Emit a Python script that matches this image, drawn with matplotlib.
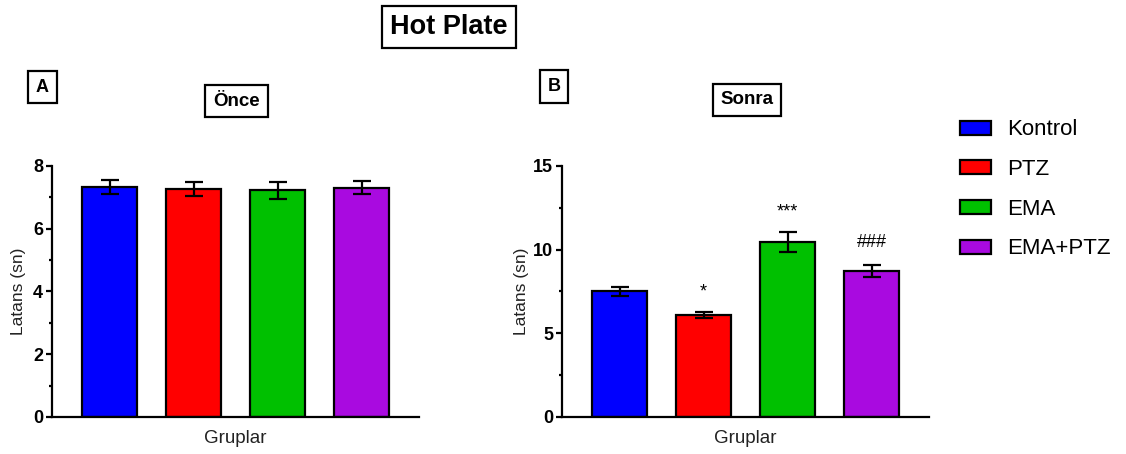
import numpy as np
import matplotlib
matplotlib.use("Agg")
import matplotlib.pyplot as plt
from matplotlib.ticker import MultipleLocator

plt.rcParams['font.family'] = ['Liberation Sans', 'DejaVu Sans']

# Groups and colours
groups = ["Kontrol", "PTZ", "EMA", "EMA+PTZ"]
colors = ["#0000FF", "#FF0000", "#00C000", "#A90AE0"]

# Hot plate latency (s), mean and SEM
before_mean = [7.33, 7.27, 7.22, 7.31]
before_sem = [0.23, 0.23, 0.27, 0.22]
after_mean = [7.50, 6.07, 10.45, 8.70]
after_sem = [0.27, 0.18, 0.60, 0.36]

# Significance marks for the "Sonra" panel
marks = ["", "*", "***", "###"]
mark_y = [0, 6.95, 11.75, 9.9]

fig = plt.figure(figsize=(11.26, 4.54), dpi=100)
ax_a = fig.add_axes([0.0462, 0.0815, 0.326, 0.553])
ax_b = fig.add_axes([0.4991, 0.0815, 0.326, 0.553])

x = np.arange(len(groups))
box = dict(boxstyle="square,pad=0.3", fc="white", ec="black", lw=1.6)
small_box = dict(boxstyle="square,pad=0.42", fc="white", ec="black", lw=1.6)


def draw_panel(ax, means, sems, ymax, major, minor, label_x):
    bars = ax.bar(x, means, width=0.655, color=colors, edgecolor="black",
                  linewidth=1.6, zorder=2)
    ax.errorbar(x, means, yerr=sems, fmt="none", ecolor="black",
                elinewidth=1.6, capsize=6.5, capthick=1.6, zorder=3)
    ax.set_xlim(-0.685, 3.685)
    ax.set_ylim(0, ymax)
    ax.yaxis.set_major_locator(MultipleLocator(major))
    ax.yaxis.set_minor_locator(MultipleLocator(minor))
    ax.set_xticks([])
    for s in ["top", "right"]:
        ax.spines[s].set_visible(False)
    for s in ["left", "bottom"]:
        ax.spines[s].set_linewidth(1.6)
    ax.tick_params(axis="y", which="major", length=4, width=1.6, pad=2.5,
                   labelsize=13)
    ax.tick_params(axis="y", which="minor", length=2.5, width=1.6)
    for t in ax.get_yticklabels():
        t.set_fontweight("bold")
    ax.set_ylabel("Latans (sn)", fontsize=12.5, color="#222222")
    ax.yaxis.set_label_coords(label_x, 0.5)
    ax.set_xlabel("Gruplar", fontsize=13.5, color="#222222")
    ax.xaxis.set_label_coords(0.5, -0.052)
    return bars


bars = draw_panel(ax_a, before_mean, before_sem, 8, 2, 1, -0.071)
draw_panel(ax_b, after_mean, after_sem, 15, 5, 2.5, -0.09)

for xi, m, y in zip(x, marks, mark_y):
    if m:
        ax_b.text(xi, y, m, ha="center", va="bottom", fontsize=13)

# Panel letters and titles
fig.text(42.5 / 1126, 1 - 87 / 454, "A", ha="center", va="center",
         fontsize=13, fontweight="bold", bbox=small_box)
fig.text(236.5 / 1126, 1 - 101 / 454, "Önce", ha="center", va="center",
         fontsize=13.5, fontweight="bold", bbox=small_box)
fig.text(554 / 1126, 1 - 86.5 / 454, "B", ha="center", va="center",
         fontsize=13, fontweight="bold", bbox=small_box)
fig.text(747 / 1126, 1 - 100 / 454, "Sonra", ha="center", va="center",
         fontsize=13.5, fontweight="bold", bbox=small_box)
fig.text(449 / 1126, 1 - 27 / 454, "Hot Plate", ha="center", va="center",
         fontsize=19.5, fontweight="bold", bbox=box)

fig.legend(bars, groups, loc="upper left", bbox_to_anchor=(0.835, 0.781),
           frameon=False, fontsize=16, handlelength=1.37, handleheight=0.6,
           handletextpad=0.75, labelspacing=0.84)

fig.savefig("out.png", dpi=100)
